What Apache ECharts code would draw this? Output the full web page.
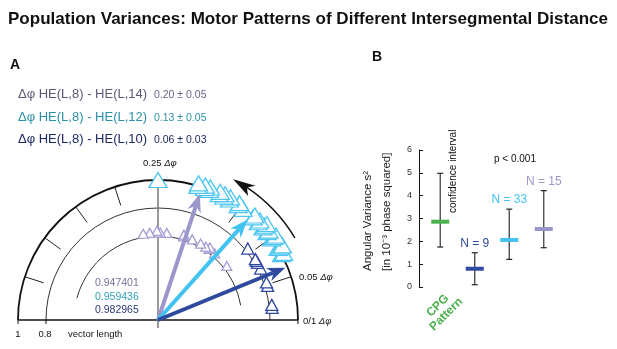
<!DOCTYPE html>
<html>
<head>
<meta charset="utf-8">
<script src="https://cdn.jsdelivr.net/npm/echarts@6/dist/echarts.min.js"></script>
<style>
  html, body { margin: 0; padding: 0; background: #fff; }
  #chart { width: 617px; height: 349px; }
</style>
</head>
<body>
<div id="chart"></div>
<script>
// panel A: phase differences of single preparations (fraction of a cycle)
const phasesL14 = [0.277, 0.265, 0.252, 0.252, 0.246, 0.234, 0.203, 0.203, 0.186, 0.169, 0.158, 0.151, 0.151, 0.138, 0.106];
const phasesL12 = [0.25, 0.204, 0.204, 0.196, 0.196, 0.19, 0.19, 0.178, 0.178, 0.172, 0.172, 0.165, 0.165, 0.153, 0.153, 0.146,
  0.131, 0.131, 0.123, 0.123, 0.115, 0.115, 0.115, 0.108, 0.108, 0.099, 0.099, 0.099, 0.086, 0.086, 0.086, 0.078, 0.078];
const phasesL10 = [0.107, 0.089, 0.086, 0.083, 0.074, 0.053, 0.048, 0.021, 0.017];

// mean vectors: [vector length, mean phase]
const vectorLengths = [0.947401, 0.959436, 0.982965];
const meanPhases = [0.199, 0.134, 0.062];
const pairNames = ['Δφ HE(L,8) - HE(L,14)', 'Δφ HE(L,8) - HE(L,12)', 'Δφ HE(L,8) - HE(L,10)'];
const phaseLabels = ['0.20 ± 0.05', '0.13 ± 0.05', '0.06 ± 0.03'];

// panel B: angular variance with confidence interval
const groups = ['CPG Pattern', 'L10', 'L12', 'L14'];
const variances = [2.86, 0.80, 2.06, 2.54];
const ciLow = [1.75, 0.10, 1.21, 1.72];
const ciHigh = [4.98, 1.50, 3.41, 4.22];
const groupN = ['', 'N = 9', 'N = 33', 'N = 15'];

const FONT = "'Liberation Sans', Arial, sans-serif";
const purple = '#9c97cb', sky = '#41c2ef', navy = '#2e4a9e', green = '#4cb14f';
const markColors = [green, navy, sky, purple];
const arrowColors = [purple, sky, navy];

const chart = echarts.init(document.getElementById('chart'));

function arrow(p0, p1, color, width, headLen, headHalf) {
  const dx = p1[0] - p0[0], dy = p1[1] - p0[1];
  const len = Math.hypot(dx, dy);
  const ux = dx / len, uy = dy / len, nx = -uy, ny = ux;
  const bx = p1[0] - ux * headLen, by = p1[1] - uy * headLen;
  const notch = [p1[0] - ux * headLen * 0.7, p1[1] - uy * headLen * 0.7];
  return [
    { type: 'line', shape: { x1: p0[0], y1: p0[1], x2: notch[0], y2: notch[1] }, style: { stroke: color, lineWidth: width } },
    { type: 'polygon', shape: { points: [p1, [bx + nx * headHalf, by + ny * headHalf], notch, [bx - nx * headHalf, by - ny * headHalf]] }, style: { fill: color } }
  ];
}

function frame(params, api) {
  const c = api.coord([0, 0]);
  const px = r => { const p = api.coord([r, 0]); return Math.hypot(p[0] - c[0], p[1] - c[1]); };
  const ang = ph => {
    const p = api.coord([1, ph]);
    let a = Math.atan2(p[1] - c[1], p[0] - c[0]);
    if (a > 1e-9) a -= Math.PI * 2;
    return a;
  };
  const arc = (r, ph0, ph1, stroke, lw) => ({
    type: 'arc',
    shape: { cx: c[0], cy: c[1], r: px(r), startAngle: ang(ph1), endAngle: ang(ph0), clockwise: true },
    style: { stroke: stroke, lineWidth: lw, fill: null }
  });
  const seg = (a, b, stroke, lw) => ({ type: 'line', shape: { x1: a[0], y1: a[1], x2: b[0], y2: b[1] }, style: { stroke: stroke, lineWidth: lw } });
  const kids = [
    arc(0.6, 0.028, 0.458, '#333', 1),
    arc(0.8, 0, 0.5, '#333', 1),
    arc(1, 0, 0.5, '#111', 1.8),
    seg(api.coord([1, 0.5]), api.coord([1, 0]), '#111', 1.5),
    seg(api.coord([0.99, 0.25]), [c[0], c[1] + 8], '#777', 1.5),
    arc(1.14, 0.086, 0.156, '#111', 1.5)
  ];
  [[1, 0.5], [0.8, 0.5], [1, 0]].forEach(rp => {
    const p = api.coord(rp);
    kids.push(seg(p, [p[0], p[1] + 4], '#111', 1));
  });
  for (let k = 1; k < 10; k++) {
    if (k === 5) continue;
    kids.push(seg(api.coord([0.86, k * 0.05]), api.coord([1, k * 0.05]), '#222', 1));
  }
  kids.push({
    type: 'polygon',
    shape: { points: [api.coord([1.14, 0.172]), api.coord([1.185, 0.15]), api.coord([1.14, 0.156]), api.coord([1.095, 0.15])] },
    style: { fill: '#111' }
  });
  return { type: 'group', children: kids };
}

const hidden = { axisLine: { show: false }, axisTick: { show: false }, axisLabel: { show: false }, splitLine: { show: false } };

// low phases first so the upper-left triangles end up on top;
// repeated phases are stacked a little outward so they stay visible
function triangles(phases, r, color, size, step) {
  const seen = {};
  const data = phases.slice().sort((a, b) => a - b).map(p => {
    const k = seen[p] || 0;
    seen[p] = k + 1;
    return [r + k * step, p];
  });
  return {
    type: 'scatter', coordinateSystem: 'polar', symbol: 'triangle', symbolSize: size,
    itemStyle: { color: '#fff', borderColor: color, borderWidth: 1.3, opacity: 1 },
    data: data, z: 3, silent: true
  };
}

const txt = (x, y, text, size, fill, extra, rotation) => ({
  type: 'text', x: x, y: y, rotation: rotation || 0,
  style: Object.assign({ text: text, fontSize: size, fill: fill, fontFamily: FONT, verticalAlign: 'middle' }, extra || {})
});
const iRich = { i: { fontStyle: 'italic', fontSize: 9.5, fontFamily: FONT, fill: '#111' } };

// squeeze the bold title into the width it takes in the figure
const title = 'Population Variances: Motor Patterns of Different Intersegmental Distance';
const ctx = document.createElement('canvas').getContext('2d');
ctx.font = 'bold 17px ' + FONT;
const titleScale = 600 / ctx.measureText(title).width;

chart.setOption({
  animation: false,
  polar: { center: [158, 320], radius: 168 },
  angleAxis: Object.assign({ type: 'value', min: 0, max: 1, startAngle: 0, clockwise: false }, hidden),
  radiusAxis: Object.assign({ type: 'value', min: 0, max: 1.2 }, hidden),
  grid: { left: 423, top: 150, width: 138, height: 137 },
  xAxis: Object.assign({ type: 'category', data: groups }, hidden),
  yAxis: {
    type: 'value', min: 0, max: 6, interval: 1, offset: 4,
    axisLine: { show: true, lineStyle: { color: '#111', width: 1 } },
    axisTick: { show: true, inside: true, length: 4, lineStyle: { color: '#111' } },
    axisLabel: { fontSize: 9, color: '#333', fontFamily: FONT, margin: 7 },
    splitLine: { show: false }
  },
  series: [
    { type: 'custom', coordinateSystem: 'polar', data: [[0, 0]], renderItem: frame, z: 1, silent: true },
    triangles(phasesL14, 0.625, '#a39ed3', [10, 9], 0.012),
    triangles(phasesL10, 0.82, '#2f48a0', [12, 11], 0.015),
    triangles(phasesL12, 1.0, '#4cc6f0', [18, 15], 0.018),
    {
      type: 'custom', coordinateSystem: 'polar', z: 4, silent: true,
      data: vectorLengths.map((l, i) => [l, meanPhases[i]]),
      renderItem: (params, api) => {
        const p0 = api.coord([0, 0]);
        const p1 = api.coord([api.value(0), api.value(1)]);
        return { type: 'group', children: arrow(p0, p1, arrowColors[params.dataIndex], 4, 18, 7) };
      }
    },
    {
      type: 'custom', coordinateSystem: 'cartesian2d', z: 4, silent: true,
      data: groups.map((g, i) => [i, variances[i], ciLow[i], ciHigh[i]]),
      renderItem: (params, api) => {
        const i = params.dataIndex;
        const m = api.coord([api.value(0), api.value(1)]);
        const lo = api.coord([api.value(0), api.value(2)]);
        const hi = api.coord([api.value(0), api.value(3)]);
        const cap = 3, half = 9;
        const kids = [
          { type: 'line', shape: { x1: m[0], y1: lo[1], x2: m[0], y2: hi[1] }, style: { stroke: '#444', lineWidth: 1.3 } },
          { type: 'line', shape: { x1: m[0] - cap, y1: lo[1], x2: m[0] + cap, y2: lo[1] }, style: { stroke: '#222', lineWidth: 1.2 } },
          { type: 'line', shape: { x1: m[0] - cap, y1: hi[1], x2: m[0] + cap, y2: hi[1] }, style: { stroke: '#222', lineWidth: 1.2 } },
          { type: 'rect', shape: { x: m[0] - half, y: m[1] - 2, width: half * 2, height: 4 }, style: { fill: markColors[i] } }
        ];
        if (groupN[i]) {
          kids.push({ type: 'text', x: m[0], y: hi[1] - 3,
            style: { text: groupN[i], fontSize: 12, fontFamily: FONT, fill: markColors[i], align: 'center', verticalAlign: 'bottom' } });
        }
        return { type: 'group', children: kids };
      }
    }
  ],
  graphic: [
    {
      type: 'text', x: 308, y: 19, scaleX: titleScale,
      style: { text: title, fontSize: 17, fontWeight: 'bold', fontFamily: FONT, fill: '#111', align: 'center', verticalAlign: 'middle' }
    },
    txt(10, 65, 'A', 14, '#111', { fontWeight: 'bold' }),
    txt(372, 57, 'B', 14, '#111', { fontWeight: 'bold' }),
    txt(18, 94, pairNames[0], 13, '#5a5a78'),
    txt(154, 95, phaseLabels[0], 10.5, '#66668a'),
    txt(18, 117, pairNames[1], 13, '#2c8fa8'),
    txt(154, 118, phaseLabels[1], 10.5, '#2c8fa8'),
    txt(18, 139, pairNames[2], 13, '#1e2860'),
    txt(154, 140, phaseLabels[2], 10.5, '#1e2860'),
    txt(95, 283, String(vectorLengths[0]), 10.5, '#7a7198'),
    txt(95, 297, String(vectorLengths[1]), 10.5, '#33a0b8'),
    txt(95, 310, String(vectorLengths[2]), 10.5, '#2a3a7a'),
    txt(143, 163, '0.25 {i|Δφ}', 9.5, '#111', { rich: iRich }),
    txt(299, 277, '0.05 {i|Δφ}', 9.5, '#111', { rich: iRich }),
    txt(303, 321, '0/1 {i|Δφ}', 9.5, '#111', { rich: iRich }),
    txt(18, 334, '1', 9.5, '#111', { align: 'center' }),
    txt(45, 334, '0.8', 9.5, '#111', { align: 'center' }),
    txt(68, 334, 'vector length', 9.5, '#111'),
    txt(515, 159, 'p < 0.001', 10, '#111', { align: 'center' }),
    txt(453, 213, 'confidence interval', 10, '#111', null, Math.PI / 2),
    txt(368, 271, 'Angular Variance s²', 11.5, '#222', null, Math.PI / 2),
    txt(387, 271, '[in 10⁻³ phase squared]', 11.5, '#222', null, Math.PI / 2),
    {
      type: 'text', x: 442, y: 310, rotation: Math.PI / 4,
      style: { text: 'CPG\nPattern', fontSize: 12, fontWeight: 'bold', fontFamily: FONT, fill: green,
        align: 'center', verticalAlign: 'middle', lineHeight: 12 }
    }
  ]
});
</script>
</body>
</html>
